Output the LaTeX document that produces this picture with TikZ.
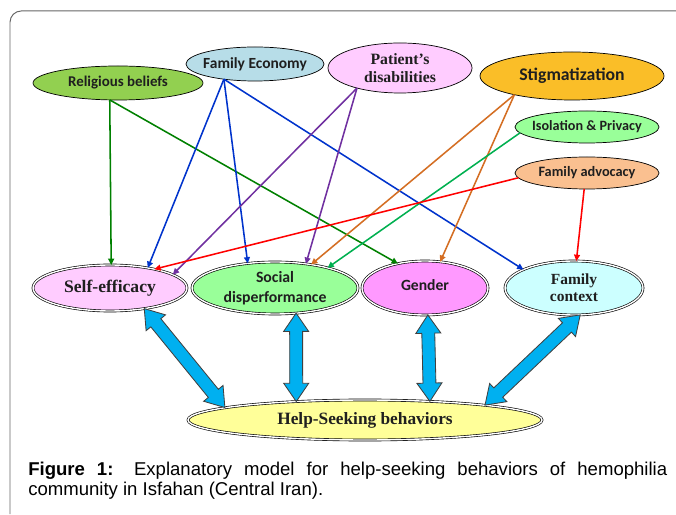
\documentclass[tikz,border=0pt]{standalone}
\usepackage{fontspec}
\setmainfont{Liberation Serif}
\setsansfont{Carlito}
\newfontfamily\capfont{Liberation Sans}
\usetikzlibrary{shapes.geometric,arrows.meta,calc}

\definecolor{relgreen}{RGB}{146,208,80}
\definecolor{ecoblue}{RGB}{183,221,232}
\definecolor{lightpink}{RGB}{255,204,255}
\definecolor{stigorange}{RGB}{250,190,40}
\definecolor{lightgreen}{RGB}{153,255,153}
\definecolor{advorange}{RGB}{250,192,144}
\definecolor{genpink}{RGB}{255,153,255}
\definecolor{lightcyan}{RGB}{204,255,255}
\definecolor{helpyellow}{RGB}{255,255,153}
\definecolor{fatblue}{RGB}{0,176,240}
\definecolor{dkgreen}{RGB}{0,128,0}
\definecolor{lnblue}{RGB}{0,51,204}
\definecolor{lnpurple}{RGB}{112,48,160}
\definecolor{lnorange}{RGB}{212,110,35}
\definecolor{lngreen}{RGB}{0,176,80}

% thick two-headed arrow between two points
\newcommand{\fatarrow}[2]{%
  \path[fatarrow] let \p1=(#1), \p2=(#2),
    \n1={atan2(\y2-\y1,\x2-\x1)}, \n2={veclen(\x2-\x1,\y2-\y1)} in
    [shift={(\p1)}, rotate={\n1}]
    (0pt,0pt) -- (13pt,8.9pt) -- (13pt,4.6pt) -- ({\n2-13pt},4.6pt) -- ({\n2-13pt},8.9pt)
    -- (\n2,0pt) -- ({\n2-13pt},-8.9pt) -- ({\n2-13pt},-4.6pt) -- (13pt,-4.6pt) -- (13pt,-8.9pt) -- cycle;}

\begin{document}
\begin{tikzpicture}[
    oval/.style={shape=ellipse, draw=black, line width=0.5pt, inner sep=0pt, outer sep=0pt, text=black!88, align=center},
    dbl/.style={double=white, double distance=1pt, line width=0.45pt},
    sbf/.style 2 args={font=\sffamily\bfseries\fontsize{#1}{#2}\selectfont},
    rbf/.style 2 args={font=\rmfamily\bfseries\fontsize{#1}{#2}\selectfont},
    fatarrow/.style={draw=black!75, fill=fatblue, line width=0.6pt},
    thin/.style={line width=1.1pt},
    >={Triangle[length=4.5pt,width=4.2pt]}
  ]
    \useasboundingbox (0,0) rectangle (16.9,12.85);
    \draw[black!60, line width=0.7pt, rounded corners=8pt] (0.25,0) -- (0.25,12.575) -- (16.9,12.575);

    % causes
    \node[oval, fill=relgreen, minimum width=4.25cm, minimum height=0.85cm, sbf={10.6}{12}] at (2.95,10.775) (RB) {Religious beliefs};
    \node[oval, fill=ecoblue, minimum width=3.45cm, minimum height=0.85cm, inner xsep=-8pt, sbf={11}{12}] at (6.375,11.25) (FE) {Family Economy};
    \node[oval, fill=lightpink, minimum width=3.6cm, minimum height=1.25cm, rbf={11.2}{12.8}] at (10.0,11.15) (PD) {Patient’s\\disabilities};
    \node[oval, fill=stigorange, minimum width=4.6cm, minimum height=1.2cm, sbf={12.6}{14}] at (14.3,10.95) (ST) {Stigmatization};
    \node[oval, fill=lightgreen, minimum width=3.6cm, minimum height=0.8cm, inner xsep=-8pt, sbf={10.1}{12}] at (14.675,9.675) (IP) {Isolation \& Privacy};
    \node[oval, fill=advorange, minimum width=3.6cm, minimum height=0.8cm, inner xsep=-4pt, sbf={10.2}{12}] at (14.675,8.525) (FA) {Family advocacy};

    % factors
    \node[oval, dbl, fill=lightpink, minimum width=3.85cm, minimum height=1.15cm, rbf={12.5}{14}] at (2.75,5.65) (SE) {Self-efficacy};
    \node[oval, dbl, fill=lightgreen, minimum width=4.15cm, minimum height=1.3cm, sbf={11.2}{14}] at (6.875,5.65) (SD) {Social\\disperformance};
    \node[oval, dbl, fill=genpink, minimum width=3.15cm, minimum height=1.35cm, sbf={11.1}{12}] at (10.625,5.65) (GE) {\raisebox{4.5pt}{Gender}};
    \node[oval, dbl, fill=lightcyan, minimum width=3.45cm, minimum height=1.35cm, rbf={11}{12}] at (14.35,5.65) (FC) {Family\\context};

    \node[oval, dbl, fill=helpyellow, minimum width=8.85cm, minimum height=1.0cm, rbf={12.3}{14}] at (9.125,2.35) (HS) {Help-Seeking behaviors};

    % influences
    \path [->, thin, dkgreen] (RB.-116) edge (SE.87) edge (GE.138);
    \path [->, thin, lnblue] (FE.-154) edge (SE.28) edge (SD.138) edge (FC.160);
    \path [->, thin, lnpurple] (PD.-155) edge (SE.12) edge (SD.38);
    \path [->, thin, lnorange] (ST.-162) edge (SD.33) edge (GE.60);
    \path [->, thin, lngreen] (IP.-175) edge (SD.21);
    \path [->, thin, red] (FA.-176) edge (SE.23);
    \path [->, thin, red] (FA.-100) edge (FC.85);

    % links to help-seeking
    \fatarrow{SE.-31}{HS.175}
    \fatarrow{SD.-50}{HS.165}
    \fatarrow{GE.-84}{HS.16}
    \fatarrow{FC.-77}{HS.7}

    \node[anchor=north west, inner sep=0pt, text width=454.5pt, align=justify, font=\capfont\fontsize{13.2}{14}\selectfont] at (0.7,1.31) (CAP) {\hyphenpenalty10000\exhyphenpenalty10000\relax\textbf{Figure 1:} Explanatory model for help-seeking behaviors of hemophilia \mbox{community} in Isfahan (Central Iran).};
\end{tikzpicture}
\end{document}
